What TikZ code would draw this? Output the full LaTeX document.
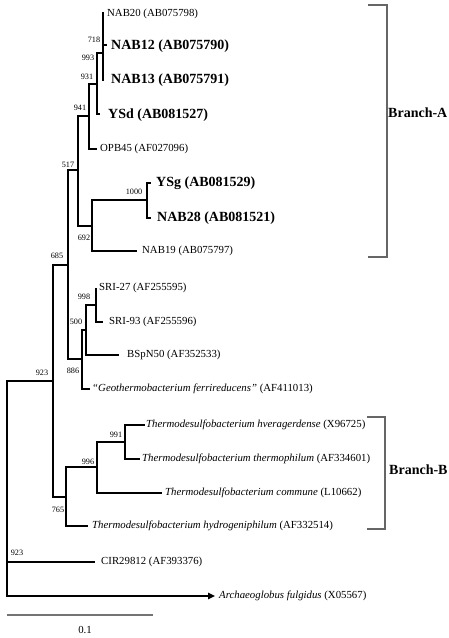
\documentclass[tikz,border=0pt]{standalone}
\usepackage{fontspec}
\setmainfont{Liberation Serif}
\usetikzlibrary{arrows.meta}
\begin{document}
\begin{tikzpicture}[x=1pt,y=-1pt,
  br/.style={line width=1.5pt},
  leaf/.style={anchor=west,inner sep=0pt,font=\fontsize{10.8}{12}\selectfont},
  bleaf/.style={anchor=west,inner sep=0pt,font=\fontsize{14}{16}\selectfont\bfseries},
  boot/.style={inner sep=0pt,font=\fontsize{8.2}{9}\selectfont},
  bracketline/.style={draw=black!60,line width=1.1pt},
  blabel/.style={anchor=west,inner sep=0pt,font=\fontsize{14}{16}\selectfont\bfseries},
  scalebar/.style={draw=black!55,line width=1.2pt}]
\useasboundingbox (0,0) rectangle (449,638);
% internal nodes
\coordinate (root) at (7,488);
\coordinate (n685) at (53,381);
\coordinate (n517) at (68,265);
\coordinate (n941) at (78,170);
\coordinate (n931) at (89,116);
\coordinate (n993) at (97,84);
\coordinate (n718) at (103,53);
\coordinate (n692) at (92,226);
\coordinate (n1000) at (147,200);
\coordinate (n886) at (82,359);
\coordinate (n500) at (86,330);
\coordinate (n998) at (96,305);
\coordinate (n765) at (66,497);
\coordinate (n996) at (97,467);
\coordinate (n991) at (125,442);
% tips
\coordinate (t20) at (103,12);
\coordinate (t13) at (103,81);
\coordinate (t12) at (107,45);
\coordinate (tYSd) at (100,114);
\coordinate (tOPB) at (97,149);
\coordinate (tYSg) at (151,183);
\coordinate (tNAB28) at (151,218);
\coordinate (tNAB19) at (137,251);
\coordinate (tSRI27) at (96,288);
\coordinate (tSRI93) at (103,322);
\coordinate (tBSp) at (119,355);
\coordinate (tGeo) at (90,389);
\coordinate (tHve) at (145,425);
\coordinate (tThe) at (140,459);
\coordinate (tCom) at (162,493);
\coordinate (tHyd) at (88,526);
\coordinate (tCIR) at (95,562);
\coordinate (tArc) at (215,596);
% branches
\draw[br] (n718) |- (t20);
\draw[br] (n718) |- (t13);
\draw[br] (t12 -| n718) -- (t12);
\draw[br] (n993) |- (n718);
\draw[br] (n993) |- (tYSd);
\draw[br] (n931) |- (n993);
\draw[br] (n931) |- (tOPB);
\draw[br] (n941) |- (n931);
\draw[br] (n941) |- (n692);
\draw[br] (n692) |- (n1000);
\draw[br] (n692) |- (tNAB19);
\draw[br] (n1000) |- (tYSg);
\draw[br] (n1000) |- (tNAB28);
\draw[br] (n517) |- (n941);
\draw[br] (n517) |- (n886);
\draw[br] (n886) |- (n500);
\draw[br] (n886) |- (tGeo);
\draw[br] (n500) |- (n998);
\draw[br] (n500) |- (tBSp);
\draw[br] (n998) |- (tSRI27);
\draw[br] (n998) |- (tSRI93);
\draw[br] (n685) |- (n517);
\draw[br] (n685) |- (n765);
\draw[br] (n765) |- (n996);
\draw[br] (n765) |- (tHyd);
\draw[br] (n996) |- (n991);
\draw[br] (n996) |- (tCom);
\draw[br] (n991) |- (tHve);
\draw[br] (n991) |- (tThe);
\draw[br] (root) |- (n685);
\draw[br] (root) |- (tCIR);
\draw[br,-{Triangle[length=7pt,width=6.5pt]}] (root) |- (tArc);
% leaf labels
\node[leaf] (l20) at (107,14) {NAB20 (AB075798)};
\node[bleaf] (l12) at (111,46) {NAB12 (AB075790)};
\node[bleaf] (l13) at (111,80) {NAB13 (AB075791)};
\node[bleaf] (lYSd) at (108,115) {YSd (AB081527)};
\node[leaf] (lOPB) at (100,149) {OPB45 (AF027096)};
\node[bleaf] (lYSg) at (156,183) {YSg (AB081529)};
\node[bleaf] (lNAB28) at (157,218) {NAB28 (AB081521)};
\node[leaf] (lNAB19) at (142,251) {NAB19 (AB075797)};
\node[leaf] (lSRI27) at (99,288) {SRI-27 (AF255595)};
\node[leaf] (lSRI93) at (109,322) {SRI-93 (AF255596)};
\node[leaf] (lBSp) at (127,355) {BSpN50 (AF352533)};
\node[leaf] (lGeo) at (92,389) {\textit{``Geothermobacterium ferrireducens''} (AF411013)};
\node[leaf] (lHve) at (146,425) {\textit{Thermodesulfobacterium hveragerdense} (X96725)};
\node[leaf] (lThe) at (142,459) {\textit{Thermodesulfobacterium thermophilum} (AF334601)};
\node[leaf] (lCom) at (165,493) {\textit{Thermodesulfobacterium commune} (L10662)};
\node[leaf] (lHyd) at (92,526) {\textit{Thermodesulfobacterium hydrogeniphilum} (AF332514)};
\node[leaf] (lCIR) at (101,562) {CIR29812 (AF393376)};
\node[leaf] (lArc) at (219,596) {\textit{Archaeoglobus fulgidus} (X05567)};
% bootstrap values
\node[boot] (b718) at (94,40) {718};
\node[boot] (b993) at (88,58) {993};
\node[boot] (b931) at (87,77) {931};
\node[boot] (b941) at (80,108) {941};
\node[boot] (b517) at (68,165) {517};
\node[boot] (b1000) at (134,192) {1000};
\node[boot] (b692) at (84,238) {692};
\node[boot] (b685) at (57,256) {685};
\node[boot] (b998) at (84,297) {998};
\node[boot] (b500) at (76,322) {500};
\node[boot] (b886) at (73,371) {886};
\node[boot] (b923a) at (42,373) {923};
\node[boot] (b991) at (116,435) {991};
\node[boot] (b996) at (88,462) {996};
\node[boot] (b765) at (58,510) {765};
\node[boot] (b923b) at (17,553) {923};
% brackets
\coordinate (aTop) at (368,5);
\coordinate (aBot) at (368,257);
\coordinate (aTopR) at (387,5);
\coordinate (aBotR) at (387,257);
\draw[bracketline] (aTop) -- (aTopR) -- (aBotR) -- (aBot);
\node[blabel] (brA) at (388,113) {Branch-A};
\coordinate (bTop) at (367,417);
\coordinate (bBot) at (367,529);
\coordinate (bTopR) at (385,417);
\coordinate (bBotR) at (385,529);
\draw[bracketline] (bTop) -- (bTopR) -- (bBotR) -- (bBot);
\node[blabel] (brB) at (389,470) {Branch-B};
% scale bar
\coordinate (s0) at (7,615);
\coordinate (s1) at (153,615);
\draw[scalebar] (s0) -- (s1);
\node[inner sep=0pt,font=\fontsize{10.8}{12}\selectfont] (sl) at (85,630) {0.1};
\end{tikzpicture}
\end{document}
